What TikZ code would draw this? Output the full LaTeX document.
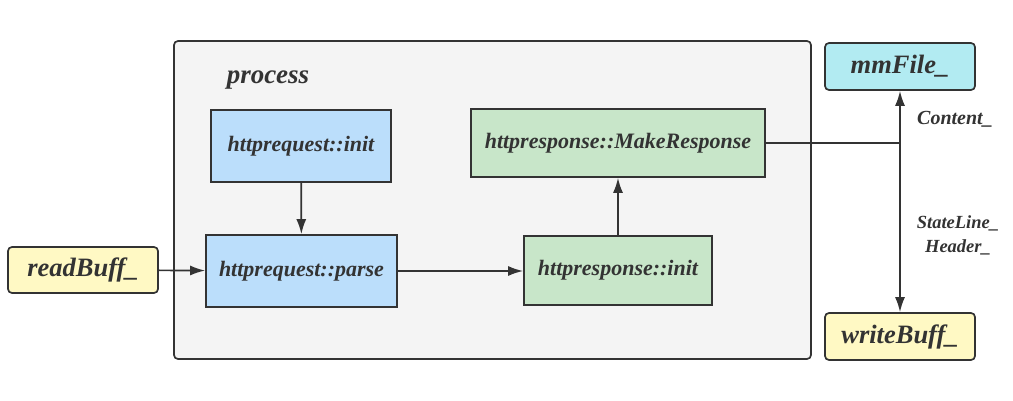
\documentclass[tikz,border=0pt]{standalone}
\usepackage{fontspec}
\setmainfont{Liberation Serif}
\usetikzlibrary{arrows.meta}
\definecolor{ink}{RGB}{51,51,51}
\definecolor{panel}{RGB}{244,244,244}
\definecolor{reqblue}{RGB}{187,222,251}
\definecolor{resgreen}{RGB}{200,230,201}
\definecolor{bufyellow}{RGB}{255,249,196}
\definecolor{filecyan}{RGB}{178,235,242}
\begin{document}
\begin{tikzpicture}[x=1pt,y=-1pt,
  txt/.style={text=ink,font=\bfseries\itshape},
  fnbox/.style={draw=ink,line width=1.7pt,txt,font=\fontsize{22}{26}\selectfont\bfseries\itshape,inner sep=0pt},
  bufbox/.style={draw=ink,line width=1.7pt,rounded corners=4pt,txt,font=\fontsize{26.5}{30}\selectfont\bfseries\itshape,inner sep=0pt},
  conn/.style={draw=ink,line width=1.7pt},
  tip/.tip={Latex[length=15pt,width=10pt]},
  arr/.style={conn,-tip},
  lbl/.style={txt,font=\fontsize{20}{24}\selectfont\bfseries\itshape,align=center}]
\useasboundingbox (0,0) rectangle (1013,401);

% container
\node[draw=ink,line width=1.7pt,fill=panel,rounded corners=4pt,minimum width=637pt,minimum height=318pt,inner sep=0pt] (proc) at (492.5,200) {};
\node[txt,font=\fontsize{27}{30}\selectfont\bfseries\itshape] (proclbl) at (268,80) {process};

% request side
\node[fnbox,fill=reqblue,minimum width=180pt,minimum height=72pt] (reqinit) at (301,146) {httprequest::init};
\node[fnbox,fill=reqblue,minimum width=191pt,minimum height=72pt] (reqparse) at (301.5,271) {httprequest::parse};

% response side
\node[fnbox,fill=resgreen,minimum width=188pt,minimum height=69pt] (resinit) at (618,270.5) {httpresponse::init};
\node[fnbox,fill=resgreen,minimum width=294pt,minimum height=68pt] (resmake) at (618,143) {httpresponse::MakeResponse};

% buffers and file
\node[bufbox,fill=bufyellow,minimum width=150pt,minimum height=46pt] (rbuf) at (83,270) {readBuff\_};
\node[bufbox,fill=filecyan,minimum width=150pt,minimum height=47pt] (mmf) at (900,66.5) {mmFile\_};
\node[bufbox,fill=bufyellow,minimum width=150pt,minimum height=47pt] (wbuf) at (900,336.5) {writeBuff\_};

% connectors
\draw[arr] (reqinit) -- (reqparse);
\draw[arr] (rbuf) -- (reqparse);
\draw[arr] (reqparse.east) -- (resinit.west |- reqparse.east);
\draw[arr] (resinit) -- (resinit |- resmake.south);
\coordinate (split) at (mmf.south |- resmake.east);
\draw[conn] (resmake.east) -- (split);
\draw[conn,tip-tip] (mmf) -- (wbuf);

% labels on the split line
\node[lbl] (lcontent) at (955,119) {Content\_};
\node[lbl,font=\fontsize{18.5}{24}\selectfont\bfseries\itshape] (lstate) at (958,235) {StateLine\_\\Header\_};
\end{tikzpicture}
\end{document}
